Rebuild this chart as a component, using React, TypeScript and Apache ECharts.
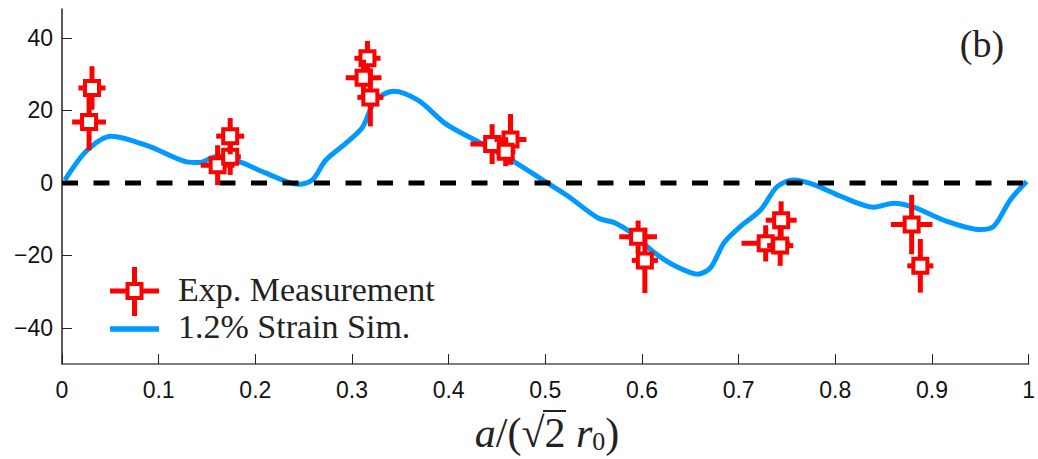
import React, { useEffect, useRef } from "react";
import * as echarts from "echarts";

// Simulation curve (1.2% strain)
const simX = [0.003, 0.026, 0.051, 0.091, 0.129, 0.142, 0.159, 0.184, 0.211, 0.245, 0.259, 0.273, 0.2935, 0.311, 0.324, 0.343, 0.369, 0.397, 0.431, 0.465, 0.4997, 0.5237, 0.5546, 0.5718, 0.589, 0.613, 0.634, 0.658, 0.671, 0.685, 0.702, 0.723, 0.74, 0.757, 0.778, 0.8055, 0.84, 0.8605, 0.881, 0.9155, 0.95, 0.964, 0.981, 0.998];
const simY = [0.8, 9, 12.9, 10, 5.8, 5.6, 7.2, 5.8, 2.7, -0.4, 0.8, 6.3, 10.9, 15.4, 22.7, 25.3, 22.7, 16.3, 11.3, 6.3, 0.4, -3.7, -9.7, -11, -13.8, -19.3, -22.9, -25.2, -23.4, -16.5, -12, -7.4, -1, 0.8, -0.5, -3.7, -6.7, -5.6, -6.7, -10.6, -12.9, -12, -4.7, 0.4];

// Experimental measurements with error bars
const expX = [0.031, 0.028, 0.161, 0.174, 0.174, 0.316, 0.312, 0.319, 0.445, 0.464, 0.459, 0.596, 0.603, 0.744, 0.728, 0.743, 0.879, 0.888];
const expY = [26.2, 16.8, 4.9, 7.2, 12.9, 34.4, 29.0, 23.6, 10.7, 12.0, 8.6, -14.9, -21.4, -10.3, -16.7, -17.3, -11.5, -22.9];
const xErr = [0.014, 0.0175, 0.0175, 0.011, 0.0145, 0.0135, 0.0185, 0.0135, 0.0225, 0.0165, 0.01, 0.0195, 0.0135, 0.016, 0.025, 0.0135, 0.0215, 0.0135];
const yErr = [6, 7.8, 5.5, 5, 5, 4.8, 5, 8, 5.5, 7, 4, 4.5, 9, 5.2, 5, 5.6, 8.2, 7.4];

// Reference line at zero
const refX = [0, 1];
const refY = [0, 0];

const yTicks = [-40, -20, 0, 20, 40];

const RED = "#ff0000";
const BLUE = "#0099ff";

export default function App() {
  const ref = useRef<HTMLDivElement>(null);
  useEffect(() => {
    if (!ref.current) return;
    const chart = echarts.init(ref.current, null, { renderer: "svg" });
    const expData = expX.map((x, i) => [x, expY[i], xErr[i], yErr[i]]);
    chart.setOption({
      animation: false,
      grid: { left: 62, right: 6, top: 9, bottom: 95, containLabel: false },
      xAxis: {
        type: "value",
        min: 0,
        max: 1,
        interval: 0.1,
        axisLine: { show: true, onZero: false, lineStyle: { color: "#555", width: 1.5 } },
        axisTick: { show: true, inside: true, length: 10, lineStyle: { color: "#222", width: 1 } },
        axisLabel: {
          fontSize: 23,
          fontFamily: "Liberation Sans",
          color: "#111",
          margin: 14,
          formatter: (v: number) => String(Number(v.toFixed(1))),
        },
        splitLine: { show: false },
      },
      yAxis: {
        type: "value",
        min: -50,
        max: 48,
        axisLine: { show: true, lineStyle: { color: "#222", width: 1.5 } },
        axisTick: { show: true, inside: true, length: 10, customValues: yTicks, lineStyle: { color: "#222", width: 1 } },
        axisLabel: {
          fontSize: 23,
          fontFamily: "Liberation Sans",
          color: "#111",
          margin: 9,
          customValues: yTicks,
          formatter: (v: number) => String(v).replace("-", "\u2212"),
        },
        splitLine: { show: false },
      },
      series: [
        {
          type: "line",
          data: simX.map((x, i) => [x, simY[i]]),
          showSymbol: false,
          smooth: 0.3,
          lineStyle: { color: BLUE, width: 5 },
          z: 2,
        },
        {
          type: "line",
          data: refX.map((x, i) => [x, refY[i]]),
          showSymbol: false,
          lineStyle: { color: "#000", width: 5, type: [16, 15.5] },
          z: 3,
        },
        {
          type: "custom",
          data: expData,
          encode: { x: 0, y: 1 },
          z: 4,
          renderItem: (params: any, api: any) => {
            const x = api.value(0);
            const y = api.value(1);
            const ex = api.value(2);
            const ey = api.value(3);
            const c = api.coord([x, y]);
            const l = api.coord([x - ex, y]);
            const r = api.coord([x + ex, y]);
            const t = api.coord([x, y + ey]);
            const b = api.coord([x, y - ey]);
            return {
              type: "group",
              children: [
                { type: "line", shape: { x1: l[0], y1: c[1], x2: r[0], y2: c[1] }, style: { stroke: RED, lineWidth: 5 } },
                { type: "line", shape: { x1: c[0], y1: t[1], x2: c[0], y2: b[1] }, style: { stroke: RED, lineWidth: 5 } },
                { type: "rect", shape: { x: c[0] - 7, y: c[1] - 7, width: 14, height: 14 }, style: { fill: "#fff", stroke: RED, lineWidth: 4 } },
              ],
            };
          },
        },
      ],
      graphic: [
        { type: "line", shape: { x1: 110, y1: 291, x2: 159, y2: 291 }, style: { stroke: RED, lineWidth: 5 } },
        { type: "line", shape: { x1: 134.5, y1: 267, x2: 134.5, y2: 316 }, style: { stroke: RED, lineWidth: 5 } },
        { type: "rect", shape: { x: 127.5, y: 284, width: 14, height: 14 }, style: { fill: "#fff", stroke: RED, lineWidth: 4 } },
        { type: "line", shape: { x1: 110, y1: 329, x2: 159, y2: 329 }, style: { stroke: BLUE, lineWidth: 5.5 } },
        {
          type: "text",
          x: 178,
          y: 289,
          style: { text: "Exp. Measurement", font: "34px 'Liberation Serif'", fill: "#222", textVerticalAlign: "middle" },
        },
        {
          type: "text",
          x: 178,
          y: 326,
          style: { text: "1.2% Strain Sim.", font: "34px 'Liberation Serif'", fill: "#222", textVerticalAlign: "middle" },
        },
        {
          type: "text",
          x: 982,
          y: 44,
          style: { text: "(b)", font: "38px 'Liberation Serif'", fill: "#222", textAlign: "center", textVerticalAlign: "middle" },
        },
        {
          type: "text",
          x: 547,
          y: 433,
          style: {
            text: "{i|a}/(√2 {i|r}{s|0})",
            fontFamily: "Liberation Serif",
            fontSize: 42,
            fill: "#222",
            textAlign: "center",
            textVerticalAlign: "middle",
            rich: {
              i: { fontFamily: "Liberation Serif", fontStyle: "italic", fontSize: 42, fill: "#222" },
              s: { fontFamily: "Liberation Serif", fontSize: 26, fill: "#222", verticalAlign: "bottom", padding: [16, 0, 0, 0] },
            },
          },
        },
        { type: "line", shape: { x1: 543, y1: 411, x2: 566, y2: 411 }, style: { stroke: "#222", lineWidth: 2 } },
      ],
    });
    return () => chart.dispose();
  }, []);
  return <div ref={ref} style={{ position: "absolute", left: 0, top: 0, width: 1038, height: 459 }} />;
}
